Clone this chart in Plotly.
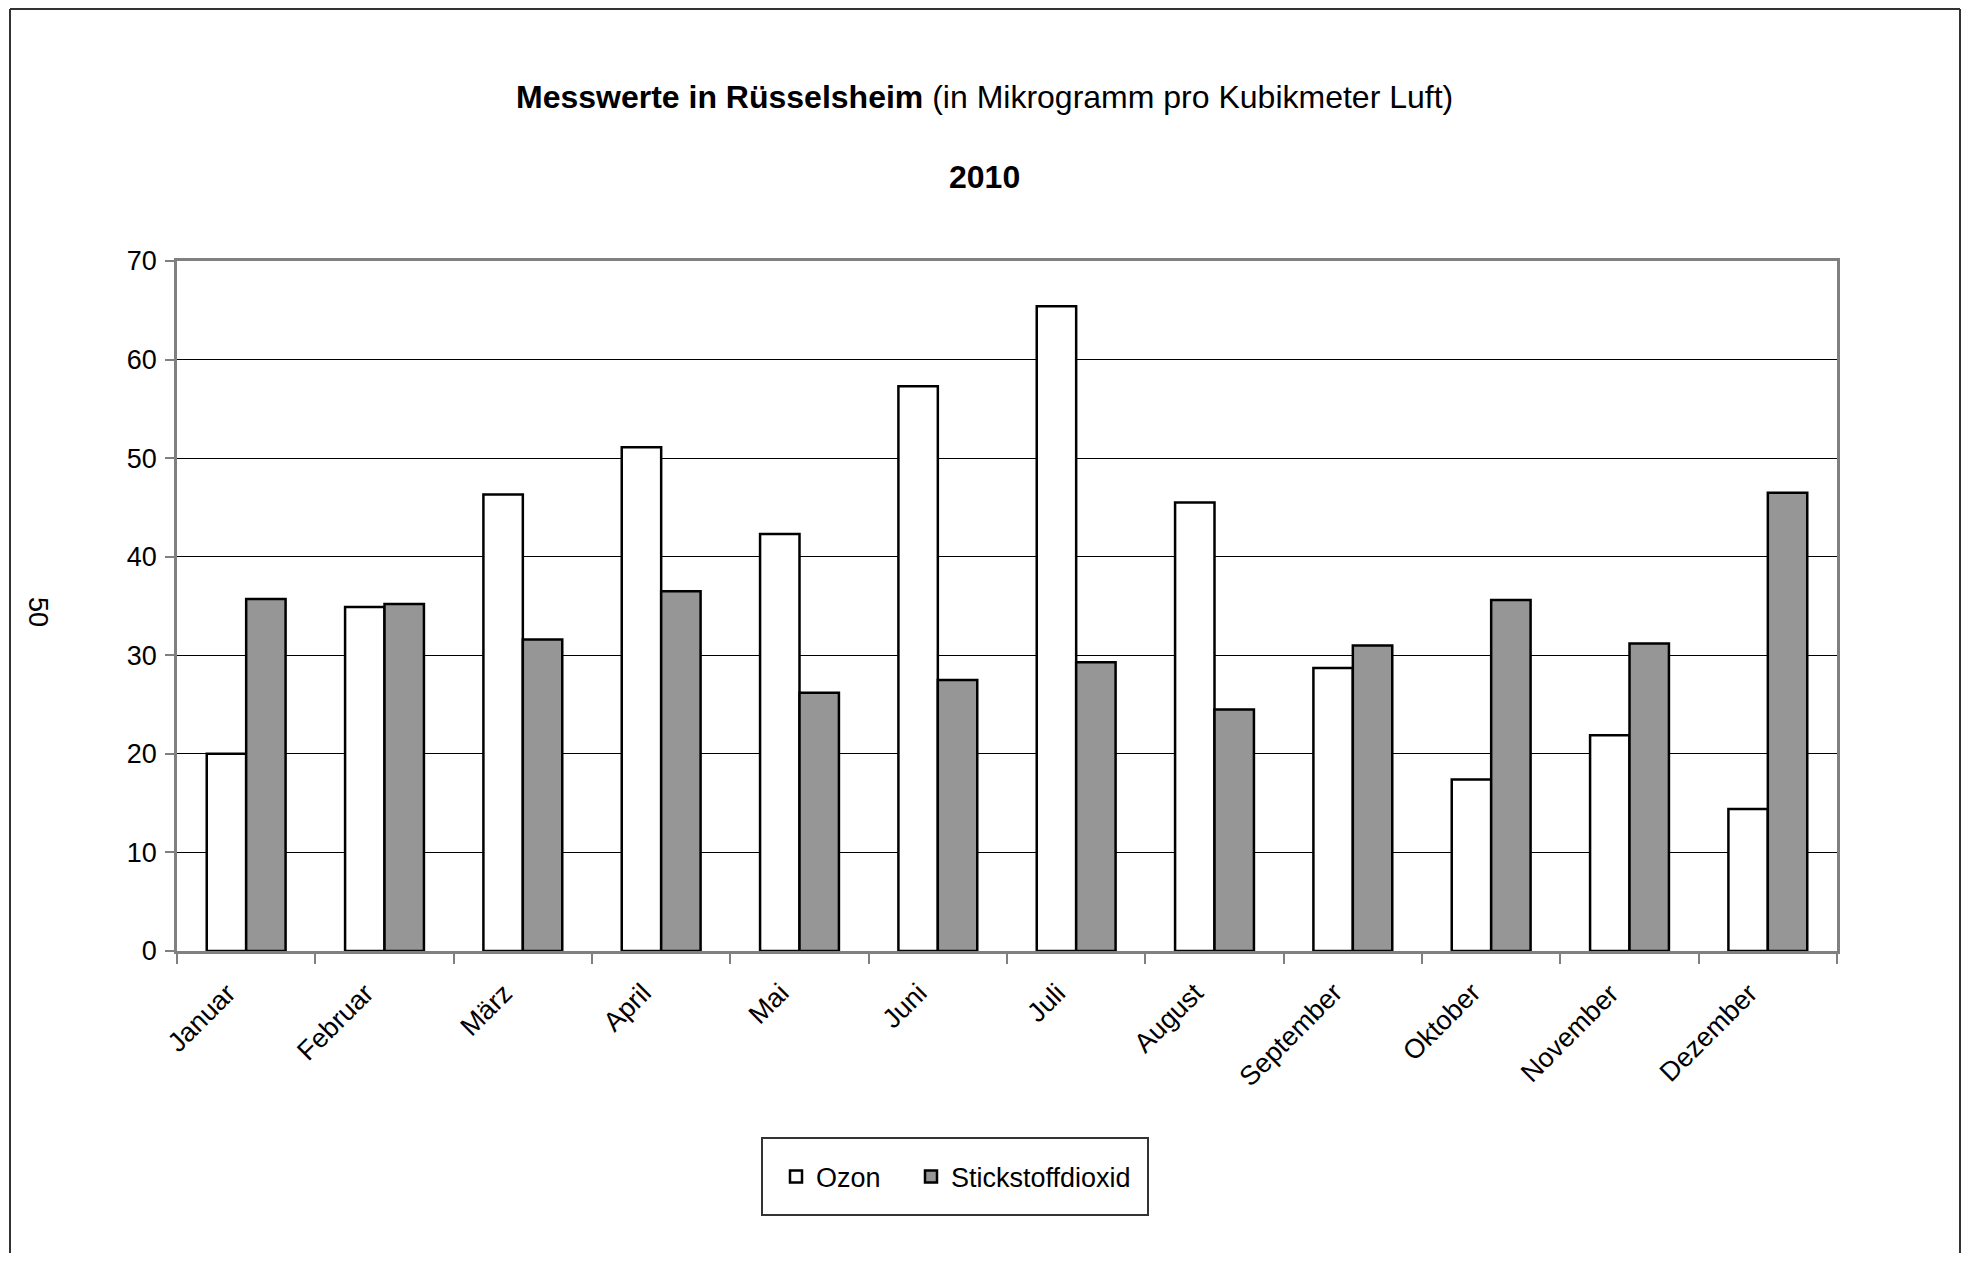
import plotly.graph_objects as go

months = ["Januar", "Februar", "März", "April", "Mai", "Juni", "Juli",
          "August", "September", "Oktober", "November", "Dezember"]
ozon = [20.0, 34.9, 46.3, 51.1, 42.3, 57.3, 65.4, 45.5, 28.7, 17.4, 21.9, 14.4]
stickstoffdioxid = [35.7, 35.2, 31.6, 36.5, 26.2, 27.5, 29.3, 24.5, 31.0, 35.6, 31.2, 46.5]
y_ticks = [0, 10, 20, 30, 40, 50, 60, 70]

# the page body has an 8px default margin; positions below are window pixels
OFF = 8
W, H = 1970 - 2 * OFF, 1261 - 2 * OFF
L, R, T, B = 177 - OFF, 1837 - OFF, 261 - OFF, 951 - OFF
pw, ph = R - L, B - T


def px(x):
    return (x - OFF - L) / pw


def py(y):
    return (B - (y - OFF)) / ph


FONT = "Liberation Sans, Arial, sans-serif"

fig = go.Figure()
fig.add_trace(go.Bar(
    x=months, y=ozon, name="Ozon", legend="legend",
    marker=dict(color="#ffffff", line=dict(color="#000000", width=2.5)),
))
fig.add_trace(go.Bar(
    x=months, y=stickstoffdioxid, name="Stickstoffdioxid", legend="legend2",
    marker=dict(color="#969696", line=dict(color="#000000", width=2.5)),
))

month_labels = [
    dict(text=m, xref="x", yref="paper", x=m, y=0, xshift=-2, yshift=-24,
         xanchor="right", yanchor="top", textangle=-45, showarrow=False,
         font=dict(family=FONT, size=27, color="#000000"))
    for m in months
]

legend_common = dict(
    orientation="h", yanchor="middle", y=py(1177), xanchor="left",
    bgcolor="rgba(0,0,0,0)", borderwidth=0,
    font=dict(family=FONT, size=27, color="#000000"),
    itemclick=False, itemdoubleclick=False,
)

fig.update_layout(
    width=W, height=H,
    margin=dict(l=L, r=W - R, t=T, b=H - B, pad=0),
    paper_bgcolor="#ffffff", plot_bgcolor="#ffffff",
    font=dict(family=FONT, size=27, color="#000000"),
    barmode="group", bargap=0.43, bargroupgap=0,
    showlegend=True,
    legend=dict(x=px(776), **legend_common),
    legend2=dict(x=px(911), **legend_common),
    xaxis=dict(
        type="category", range=[-0.5, len(months) - 0.5], autorange=False,
        tickson="boundaries", showticklabels=False,
        ticks="outside", ticklen=10, tickwidth=1.5, tickcolor="#808080",
        showline=True, linecolor="#808080", linewidth=2.5, mirror=True,
        showgrid=False, zeroline=False,
    ),
    yaxis=dict(
        range=[0, 70], autorange=False, tickvals=y_ticks, ticktext=[str(v) for v in y_ticks],
        ticks="outside", ticklen=9, tickwidth=1.5, tickcolor="#808080",
        showline=True, linecolor="#808080", linewidth=2.5, mirror=True,
        showgrid=True, gridcolor="#000000", gridwidth=1.2, zeroline=False,
        tickfont=dict(family=FONT, size=27, color="#000000"),
        ticklabelstandoff=3,
    ),
    annotations=month_labels + [
        dict(text="<b>Messwerte in Rüsselsheim</b> (in Mikrogramm pro Kubikmeter Luft)",
             xref="paper", yref="paper", x=px(984), y=py(97),
             xanchor="center", yanchor="middle", showarrow=False,
             font=dict(family=FONT, size=32, color="#000000")),
        dict(text="<b>2010</b>",
             xref="paper", yref="paper", x=px(984), y=py(177),
             xanchor="center", yanchor="middle", showarrow=False,
             font=dict(family=FONT, size=32, color="#000000")),
        dict(text="50",
             xref="paper", yref="paper", x=px(38), y=py(612),
             xanchor="center", yanchor="middle", showarrow=False, textangle=90,
             font=dict(family=FONT, size=27, color="#000000")),
    ],
    shapes=[
        # outer chart frame (left, top, right)
        dict(type="line", xref="paper", yref="paper", x0=px(10), x1=px(10), y0=py(1262), y1=py(9),
             line=dict(color="#333333", width=2)),
        dict(type="line", xref="paper", yref="paper", x0=px(10), x1=px(1960), y0=py(9), y1=py(9),
             line=dict(color="#333333", width=2)),
        dict(type="line", xref="paper", yref="paper", x0=px(1960), x1=px(1960), y0=py(1262), y1=py(9),
             line=dict(color="#333333", width=2)),
        # legend frame
        dict(type="rect", xref="paper", yref="paper", x0=px(762), x1=px(1148), y0=py(1215), y1=py(1138),
             line=dict(color="#333333", width=2), fillcolor="rgba(0,0,0,0)"),
    ],
)

fig.write_html("out.html")
